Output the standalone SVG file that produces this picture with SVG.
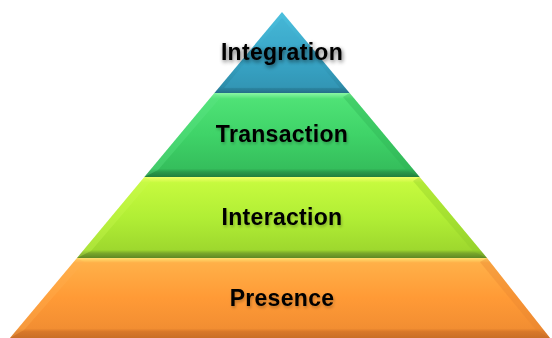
<svg xmlns="http://www.w3.org/2000/svg" width="552" height="338" viewBox="0 0 552 338">
<defs>
<style>
.lbl{font-family:"Liberation Sans",Arial,sans-serif;font-weight:bold;font-size:23px;fill:#000;text-anchor:middle;letter-spacing:0.3px}
</style>
<filter id="sh" x="-20%" y="-50%" width="140%" height="200%">
<feGaussianBlur in="SourceAlpha" stdDeviation="2"/>
<feOffset dx="1" dy="2" result="b"/>
<feComponentTransfer><feFuncA type="linear" slope="0.6"/></feComponentTransfer>
<feMerge><feMergeNode/><feMergeNode in="SourceGraphic"/></feMerge>
</filter>
<filter id="sh2" x="-20%" y="-50%" width="140%" height="200%">
<feGaussianBlur in="SourceAlpha" stdDeviation="1.5"/>
<feOffset dx="1" dy="1.5" result="b"/>
<feComponentTransfer><feFuncA type="linear" slope="0.25"/></feComponentTransfer>
<feMerge><feMergeNode/><feMergeNode in="SourceGraphic"/></feMerge>
</filter>
<linearGradient id="gBlue" x1="0" y1="0" x2="0" y2="1">
<stop offset="0" stop-color="#4CC0DE"/><stop offset="0.6" stop-color="#36A2C3"/><stop offset="0.92" stop-color="#2E8DAA"/><stop offset="1" stop-color="#246F88"/>
</linearGradient>
<linearGradient id="gGreen" x1="0" y1="0" x2="0" y2="1">
<stop offset="0" stop-color="#8AF7A4"/><stop offset="0.07" stop-color="#4FE276"/><stop offset="0.5" stop-color="#3FD368"/><stop offset="0.9" stop-color="#35BE5C"/><stop offset="0.94" stop-color="#2A9A4A"/><stop offset="1" stop-color="#237F3D"/>
</linearGradient>
<linearGradient id="gLime" x1="0" y1="0" x2="0" y2="1">
<stop offset="0" stop-color="#F2FF6A"/><stop offset="0.07" stop-color="#C6FA3E"/><stop offset="0.5" stop-color="#B1EE35"/><stop offset="0.9" stop-color="#9ED82E"/><stop offset="0.94" stop-color="#79A82A"/><stop offset="1" stop-color="#5E8824"/>
</linearGradient>
<linearGradient id="gOrange" x1="0" y1="0" x2="0" y2="1">
<stop offset="0" stop-color="#FFE070"/><stop offset="0.06" stop-color="#FFB048"/><stop offset="0.5" stop-color="#FF9A36"/><stop offset="0.88" stop-color="#F28E32"/><stop offset="0.92" stop-color="#D8782A"/><stop offset="1" stop-color="#C96E26"/>
</linearGradient>
</defs>
<g id="tier-integration">
<polygon points="282,12 349.6,93 214.4,93" fill="url(#gBlue)"/>
<polygon points="282,18 340,88 224,88" fill="#3BA9CA" opacity="0.35"/>
<text class="lbl" x="282" y="60" filter="url(#sh)">Integration</text>
</g>
<g id="tier-transaction">
<polygon points="214.4,93 349.6,93 419.6,177 144.4,177" fill="url(#gGreen)"/>
<polygon points="349.6,93 419.6,177 406,170 343,97" fill="#2FB052" opacity="0.35"/>
<polygon points="214.4,93 144.4,177 158,170 221,97" fill="#5FE588" opacity="0.35"/>
<text class="lbl" x="282" y="142" filter="url(#sh2)">Transaction</text>
</g>
<g id="tier-interaction">
<polygon points="144.4,177 419.6,177 487,258 77,258" fill="url(#gLime)"/>
<polygon points="419.6,177 487,258 473,251 413,181" fill="#8CC828" opacity="0.35"/>
<polygon points="144.4,177 77,258 91,251 151,181" fill="#C9F850" opacity="0.35"/>
<text class="lbl" x="282" y="225" filter="url(#sh2)">Interaction</text>
</g>
<g id="tier-presence">
<polygon points="77,258 487,258 550,338 10,338" fill="url(#gOrange)"/>
<polygon points="487,258 550,338 536,330 480,262" fill="#E58430" opacity="0.35"/>
<polygon points="77,258 10,338 24,330 84,262" fill="#FFAE50" opacity="0.35"/>
<text class="lbl" x="282" y="306" filter="url(#sh2)">Presence</text>
</g>
<g id="connectors"/>
</svg>
